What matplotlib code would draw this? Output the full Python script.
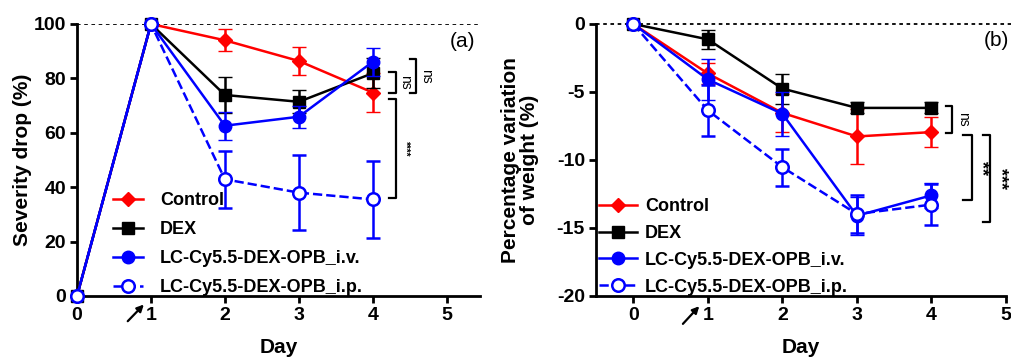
import matplotlib
matplotlib.use("Agg")
import matplotlib.pyplot as plt
from matplotlib.lines import Line2D

plt.rcParams['font.family'] = ['Liberation Sans', 'DejaVu Sans']

days = [0, 1, 2, 3, 4]
labels = ['Control', 'DEX', 'LC-Cy5.5-DEX-OPB_i.v.', 'LC-Cy5.5-DEX-OPB_i.p.']

# (a) severity drop (%)
sev_control = [0, 100, 94.0, 86.4, 74.8]
sev_control_err = [0, 0, 4.0, 5.2, 7.0]
sev_dex = [0, 100, 73.9, 71.4, 81.9]
sev_dex_err = [0, 0, 6.5, 4.2, 5.5]
sev_iv = [0, 100, 62.6, 65.9, 86.1]
sev_iv_err = [0, 0, 5.2, 4.0, 5.2]
sev_ip = [0, 100, 42.9, 38.0, 35.5]
sev_ip_err = [0, 0, 10.5, 13.7, 14.0]

# (b) weight variation (%)
w_control = [0, -3.64, -6.54, -8.27, -7.95]
w_control_err = [0, 0.8, 1.4, 2.0, 1.1]
w_dex = [0, -1.13, -4.75, -6.17, -6.17]
w_dex_err = [0, 0.7, 1.1, 0.4, 0.4]
w_iv = [0, -4.08, -6.6, -14.1, -12.6]
w_iv_err = [0, 1.5, 1.6, 1.4, 0.9]
w_ip = [0, -6.35, -10.53, -13.97, -13.28]
w_ip_err = [0, 1.9, 1.35, 1.4, 1.5]

styles = [
    dict(color='#ff0000', marker='D', ms=7, ls='-', mfc='#ff0000'),
    dict(color='black', marker='s', ms=8, ls='-', mfc='black'),
    dict(color='#0000ff', marker='o', ms=9, ls='-', mfc='#0000ff'),
    dict(color='#0000ff', marker='o', ms=9, ls='--', mfc='white', mew=1.8),
]

fig = plt.figure(figsize=(10.12, 3.58), dpi=100)
ax1 = fig.add_axes([0.0761, 0.1732, 0.3982, 0.7598])
ax2 = fig.add_axes([0.589, 0.1732, 0.405, 0.7598])


def draw(ax, series):
    for i, ((y, e), st) in enumerate(zip(series, styles)):
        ax.errorbar(days, y, yerr=e, color=st['color'], marker=st['marker'], ms=st['ms'],
                    ls=st['ls'], mfc=st['mfc'], mec=st['color'], mew=st.get('mew', 1),
                    lw=1.8, elinewidth=1.8, capsize=5, capthick=1.8,
                    clip_on=False, zorder=3 + i)


def handles():
    return [Line2D([], [], color=st['color'], marker=st['marker'], ms=st['ms'],
                   ls=st['ls'], mfc=st['mfc'], mec=st['color'], mew=st.get('mew', 1),
                   lw=1.8) for st in styles]


def style(ax):
    for s in ['top', 'right']:
        ax.spines[s].set_visible(False)
    for s in ['left', 'bottom']:
        ax.spines[s].set_linewidth(2)
    ax.tick_params(width=2, length=5, direction='out', labelsize=14, pad=3)
    for t in ax.get_xticklabels() + ax.get_yticklabels():
        t.set_fontweight('bold')
    ax.set_xticks(range(6))
    ax.set_xlabel('Day', fontsize=15, fontweight='bold', va='top')
    ax.xaxis.set_label_coords(0.5, -0.155)


def bracket(ax, x0, x1, y0, y1, txt, tx, size, weight='normal'):
    ax.plot([x0, x1, x1, x0], [y0, y0, y1, y1], color='black', lw=1.6, clip_on=False)
    ax.text(tx, (y0 + y1) / 2, txt, rotation=270, ha='center', va='center',
            fontsize=size, fontweight=weight, clip_on=False)


# panel (a)
draw(ax1, [(sev_control, sev_control_err), (sev_dex, sev_dex_err),
           (sev_iv, sev_iv_err), (sev_ip, sev_ip_err)])
ax1.axhline(100, color='black', ls=(0, (2, 2)), lw=1.3, zorder=1)
ax1.set_xlim(0, 5.45)
ax1.set_ylim(0, 100)
ax1.set_yticks([0, 20, 40, 60, 80, 100])
style(ax1)
ax1.set_ylabel('Severity drop (%)', fontsize=15, fontweight='bold')
ax1.yaxis.set_label_coords(-0.112, 0.5)
ax1.text(5.22, 93.4, '(a)', fontsize=15, ha='center', va='center')
bracket(ax1, 4.22, 4.31, 82.5, 74.8, 'ns', 4.44, 10)
bracket(ax1, 4.50, 4.59, 87.0, 74.8, 'ns', 4.72, 10)
bracket(ax1, 4.22, 4.31, 72.3, 35.9, '****', 4.44, 7, 'bold')
ax1.annotate('', xy=(0.93, -2.4), xytext=(0.66, -10.0),
             arrowprops=dict(arrowstyle='-|>', color='black', lw=1.6, mutation_scale=10),
             annotation_clip=False)
ax1.legend(handles(), labels, loc='upper left', bbox_to_anchor=(0.072, 0.408), frameon=False,
           prop=dict(size=13, weight='bold'), handlelength=1.66, handletextpad=0.94,
           labelspacing=0.66, borderaxespad=0)

# panel (b)
draw(ax2, [(w_control, w_control_err), (w_dex, w_dex_err),
           (w_iv, w_iv_err), (w_ip, w_ip_err)])
ax2.plot([-0.5, 5.1], [0, 0], color='black', ls=(0, (2, 2)), lw=1.3, zorder=1, clip_on=False)
ax2.set_xlim(-0.5, 5)
ax2.set_ylim(-20, 0)
ax2.set_yticks([0, -5, -10, -15, -20])
ax2.set_yticklabels(['0', '-5', '-10', '-15', '-20'])
style(ax2)
ax2.set_ylabel('Percentage variation\nof weight (%)', fontsize=15, fontweight='bold',
               linespacing=1.0)
ax2.yaxis.set_label_coords(-0.14, 0.5)
ax2.text(4.87, -1.18, '(b)', fontsize=15, ha='center', va='center')
bracket(ax2, 4.19, 4.28, -6.05, -8.02, 'ns', 4.42, 10)
bracket(ax2, 4.42, 4.54, -8.19, -12.94, '**', 4.67, 13, 'bold')
bracket(ax2, 4.69, 4.79, -8.19, -14.59, '***', 4.92, 13, 'bold')
ax2.annotate('', xy=(0.91, -20.6), xytext=(0.64, -22.2),
             arrowprops=dict(arrowstyle='-|>', color='black', lw=1.6, mutation_scale=10),
             annotation_clip=False)
ax2.legend(handles(), labels, loc='upper left', bbox_to_anchor=(-0.01, 0.387), frameon=False,
           prop=dict(size=13, weight='bold'), handlelength=2.1, handletextpad=0.45,
           labelspacing=0.55, borderaxespad=0)

fig.savefig('out.png', dpi=100)
